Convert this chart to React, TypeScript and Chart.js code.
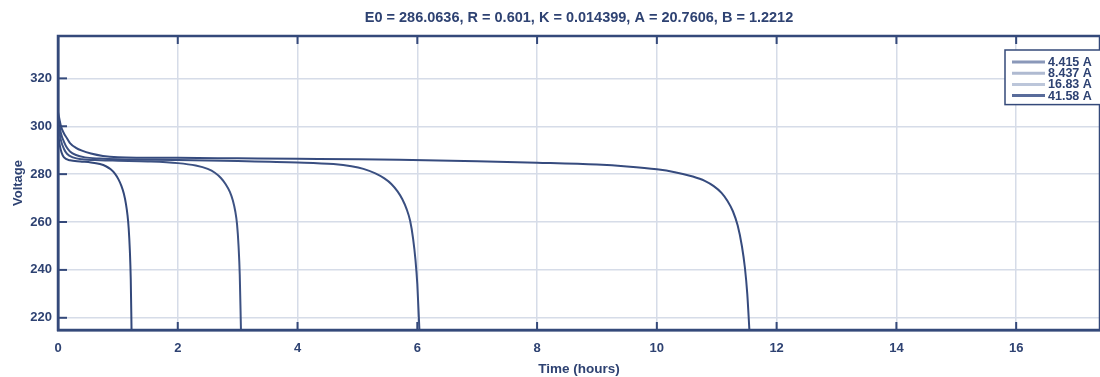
import React, { useEffect, useRef } from "react";
import { Chart, registerables } from "chart.js";

Chart.register(...registerables);

const titleText = "E0 = 286.0636, R = 0.601, K = 0.014399, A = 20.7606, B = 1.2212";
const xTitle = "Time (hours)";
const yTitle = "Voltage";

const seriesLabels = ["4.415 A", "8.437 A", "16.83 A", "41.58 A"];

const time1 = [0, 0.05, 0.1, 0.15, 0.2, 0.3, 0.4, 0.55, 0.75, 1, 2, 3, 4, 5, 5.7, 7, 8, 9, 9.5, 10, 10.3, 10.6, 10.8, 10.95, 11.08, 11.18, 11.27, 11.35, 11.42, 11.47, 11.51, 11.545];
const volt1 = [306, 300, 297, 295, 293, 291, 289.8, 288.6, 287.6, 287.1, 286.8, 286.6, 286.4, 286.2, 286.0, 285.4, 284.8, 284.0, 283.2, 282.0, 280.8, 279.0, 277.2, 275.0, 272.2, 268.8, 264.5, 258.5, 250, 241, 230, 215];

const time2 = [0, 0.05, 0.1, 0.15, 0.2, 0.3, 0.45, 0.7, 1, 2, 3, 4, 4.6, 4.9, 5.1, 5.3, 5.45, 5.57, 5.67, 5.75, 5.82, 5.88, 5.93, 5.97, 6.0, 6.035];
const volt2 = [304, 297, 293.5, 291, 289.5, 288, 287, 286.5, 286.2, 285.9, 285.5, 284.9, 284.2, 283.3, 282.2, 280.3, 278.2, 275.8, 272.8, 269.5, 265.5, 260.5, 253, 244, 234, 215];

const time3 = [0, 0.05, 0.1, 0.15, 0.25, 0.4, 0.7, 1, 1.5, 2, 2.3, 2.5, 2.62, 2.72, 2.8, 2.87, 2.92, 2.96, 2.99, 3.015, 3.035, 3.055];
const volt3 = [301, 294, 290.5, 288.5, 287, 286.2, 285.8, 285.6, 285.3, 284.6, 283.6, 282.2, 280.6, 278.4, 275.8, 272.6, 269, 264.5, 259, 250, 238, 215];

const time4 = [0, 0.03, 0.06, 0.1, 0.2, 0.37, 0.55, 0.7, 0.8, 0.88, 0.95, 1.01, 1.06, 1.1, 1.135, 1.16, 1.18, 1.2, 1.215, 1.228];
const volt4 = [297, 292, 289, 287, 285.8, 285.3, 284.9, 284.2, 283.3, 282.0, 280.2, 277.8, 275, 271.8, 267.5, 263, 257.5, 248, 236, 215];

const seriesTimes = [time1, time2, time3, time4];
const seriesVolts = [volt1, volt2, volt3, volt4];

const xTicks = [0, 2, 4, 6, 8, 10, 12, 14, 16];
const yTicks = [220, 240, 260, 280, 300, 320];

const lineColors = ["#364b7e", "#3a4f81", "#3d5283", "#33487a"];
const legendSwatches = ["#8a98b9", "#afbad1", "#bcc6da", "#596c9b"];

const inkColor = "#2e4272";
const axisColor = "#34497a";
const gridColor = "#d6dce8";
const fontFamily = "'Liberation Sans', Arial, sans-serif";

const framePlugin = {
  id: "framePlugin",
  afterDraw(chart: any) {
    const { ctx, chartArea } = chart;
    const { left, right, top, bottom } = chartArea;
    const xs = chart.scales.x;
    const ys = chart.scales.y;
    ctx.save();
    ctx.strokeStyle = axisColor;
    ctx.lineWidth = 2.5;
    ctx.strokeRect(left, top, right - left, bottom - top);
    ctx.lineWidth = 2;
    xTicks.forEach((v) => {
      const px = xs.getPixelForValue(v);
      ctx.beginPath();
      ctx.moveTo(px, bottom);
      ctx.lineTo(px, bottom - 8);
      ctx.moveTo(px, top);
      ctx.lineTo(px, top + 8);
      ctx.stroke();
    });
    yTicks.forEach((v) => {
      const py = ys.getPixelForValue(v);
      ctx.beginPath();
      ctx.moveTo(left, py);
      ctx.lineTo(left + 9, py);
      ctx.stroke();
    });

    // legend
    const lx = 1005;
    const ly = 50;
    const rowH = 11.2;
    const boxW = 110;
    const boxH = 12 + rowH * (seriesLabels.length - 1) + 9;
    ctx.fillStyle = "#ffffff";
    ctx.fillRect(lx, ly, boxW, boxH);
    ctx.strokeStyle = axisColor;
    ctx.lineWidth = 1.5;
    ctx.strokeRect(lx, ly, boxW, boxH);
    ctx.font = `bold 12.5px ${fontFamily}`;
    ctx.textBaseline = "middle";
    ctx.textAlign = "left";
    chart.data.datasets.forEach((ds: any, i: number) => {
      const y = ly + 12 + i * rowH;
      ctx.strokeStyle = legendSwatches[i];
      ctx.lineWidth = 3;
      ctx.beginPath();
      ctx.moveTo(lx + 7, y);
      ctx.lineTo(lx + 40, y);
      ctx.stroke();
      ctx.fillStyle = inkColor;
      ctx.fillText(ds.label, lx + 43, y + 0.5);
    });
    ctx.restore();
  },
};

export default function App() {
  const canvasRef = useRef<HTMLCanvasElement | null>(null);

  useEffect(() => {
    if (!canvasRef.current) return;
    const datasets = seriesLabels.map((label, i) => ({
      label,
      data: seriesTimes[i].map((t, j) => ({ x: t, y: seriesVolts[i][j] })),
      borderColor: lineColors[i],
      backgroundColor: lineColors[i],
      borderWidth: 2,
      pointRadius: 0,
      cubicInterpolationMode: "monotone" as const,
      fill: false,
    }));

    const tickFont = { family: fontFamily, size: 13, weight: "bold" as const };

    const chart = new Chart(canvasRef.current, {
      type: "line",
      data: { datasets },
      plugins: [framePlugin],
      options: {
        animation: false,
        responsive: true,
        maintainAspectRatio: false,
        layout: { padding: 0 },
        plugins: {
          legend: { display: false },
          tooltip: { enabled: false },
          title: {
            display: true,
            text: titleText,
            fullSize: false,
            color: inkColor,
            font: { family: fontFamily, size: 14.5, weight: "bold" },
            padding: { top: 9, bottom: 9.6 },
          },
        },
        scales: {
          x: {
            type: "linear",
            min: 0,
            max: 17.4,
            afterBuildTicks: (s: any) => {
              s.ticks = xTicks.map((v) => ({ value: v }));
            },
            afterFit: (s: any) => {
              s.height = 47;
            },
            grid: { color: gridColor, lineWidth: 1.5, drawTicks: false },
            border: { display: true, color: axisColor, width: 2.5 },
            ticks: {
              color: inkColor,
              padding: 11,
              maxRotation: 0,
              font: tickFont,
            },
            title: {
              display: true,
              text: xTitle,
              color: inkColor,
              font: { family: fontFamily, size: 13.5, weight: "bold" },
              padding: { top: 0, bottom: 0 },
            },
          },
          y: {
            type: "linear",
            min: 214.9,
            max: 337.7,
            afterBuildTicks: (s: any) => {
              s.ticks = yTicks.map((v) => ({ value: v }));
            },
            afterFit: (s: any) => {
              s.width = 58;
            },
            grid: { color: gridColor, lineWidth: 1.5, drawTicks: false },
            border: { display: true, color: axisColor, width: 2.5 },
            ticks: {
              color: inkColor,
              padding: 6,
              font: tickFont,
            },
            title: {
              display: true,
              text: yTitle,
              color: inkColor,
              font: { family: fontFamily, size: 13, weight: "bold" },
              padding: { top: 11, bottom: 0 },
            },
          },
        },
      },
    });
    return () => chart.destroy();
  }, []);

  return (
    <div style={{ position: "absolute", left: 0, top: 0, width: 1100, height: 377, background: "#ffffff" }}>
      <canvas ref={canvasRef} />
    </div>
  );
}
